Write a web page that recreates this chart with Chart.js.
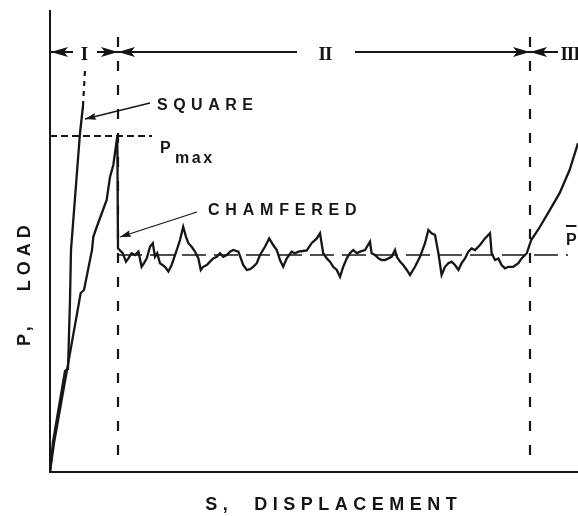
<!DOCTYPE html>
<html>
<head>
<meta charset="utf-8">
<script src="https://cdn.jsdelivr.net/npm/chart.js@4"></script>
<style>
  html, body { margin: 0; padding: 0; background: #fff; }
  canvas { display: block; }
</style>
</head>
<body>
<canvas id="chart" width="578" height="516"></canvas>
<script>
const INK = '#161616';

// Load (P) against displacement (S), arbitrary units
const squareS = [0, 0.75, 3.75, 4.5, 5, 5.25, 7.5, 8.25];
const squareP = [0, 7.5, 25.25, 25.75, 43, 55.5, 84.75, 91.5];
// dotted continuation of the square-ended curve
const squareExtS = [8.25, 8.75];
const squareExtP = [91.5, 100.5];

const pMax = 84;
const pBar = 54.25;

const chamferS = [0, 1, 7.67, 8.5, 10.5, 10.83, 11.25, 11.5, 14.17, 15, 15.83, 16.83, 17.0,
  18.17, 19, 19.6, 20.4, 21.25, 22.1, 22.9, 23.5, 24.2, 25, 25.7, 26.25, 26.8, 27.5, 28.75,
  29.6, 30.4, 31.7, 32.5, 33.3, 34, 34.6, 35.4, 36.25, 37.1, 37.7, 38.3, 39.2, 40, 40.8, 41.7,
  42.5, 43.3, 44.2, 45, 45.8, 47.1, 48.3, 49.2, 50, 50.8, 51.7, 52.5, 53.75, 54.8, 55.8, 56.7,
  57.5, 58.3, 59.2, 60.4, 61.25, 62.1, 63.2, 64.2, 65.4, 66.7, 67.5, 68.3, 69.2, 70, 70.8,
  71.7, 72.5, 73.3, 74.2, 75, 75.8, 76.7, 77.5, 78.75, 80, 80.4, 81.25, 82.1, 82.9, 83.75,
  84.6, 85.4, 86.25, 86.7, 87.5, 88.3, 89.2, 90, 91.25, 92.5, 93.75, 94.6, 95.4, 96.25, 97.1,
  97.9, 98.75, 99.6, 100.4, 101.25, 102.1, 102.9, 103.75, 104.6, 105.4, 106.25, 107.5, 108.75,
  110, 110.4, 111.25, 112.1, 112.9, 113.75, 114.6, 115.8, 117.1, 117.9, 119.2, 120.3, 122,
  124.5, 127.4, 129.9, 132, 133.5];
const chamferP = [0, 7.25, 44.75, 45.5, 55.5, 58.8, 60, 60.75, 68, 73.75, 76.75, pMax, 55.9,
  54.7, 52.6, 53.4, 54.7, 54.25, 55.1, 51.3, 52.2, 53.4, 56.3, 57.2, 53.8, 54.7, 52.2, 51.3,
  50.1, 51.75, 55.5, 58, 61.3, 58.8, 57.2, 56.3, 55.1, 53.4, 50.5, 51.3, 51.75, 52.6, 53.4, 53.8,
  54.7, 53.8, 54.25, 55.1, 55.5, 55.1, 51.75, 50.5, 50.7, 51.3, 52.2, 54.25, 56.3, 58.4, 56.75, 55.5,
  53, 51.3, 53.4, 55.1, 54.7, 55.1, 55.25, 55.4, 57.2, 58.4, 59.7, 54.7, 53.4, 52.6, 51.3,
  50.5, 48.8, 51.3, 53.4, 54.7, 55.5, 54.7, 55.1, 55.5, 57.6, 54.7, 54.25, 53.4, 53, 53,
  53.4, 53.8, 55.5, 53.8, 52.6, 51.75, 50.5, 49.25, 51.3, 53.8, 57.2, 60.5, 59.7, 59.25, 54.7,
  49.25, 51.3, 52.2, 52.6, 51.75, 50.5, 52.2, 53.4, 55.1, 55.9, 55.5, 56.75, 58.4,
  59.7, 54.7, 53, 53.4, 51.75, 50.9, 51.3, 51.3, 52.2, 53.4, 54.7, 58, 60.5,
  64.7, 69.7, 75.5, 82.2, 86];

// reference lines
const pMaxLineS = [0, 25.5];
const pBarLineS = [17, 129.5];
const boundaryS = [17, 120];          // ends of stage I and stage II
const boundaryP = [108.75, 1.75];     // top and bottom of the stage dividers

// stage markers along the top
const stageRowP = 105;
const stageLineFrom = [0.25, 11.75, 17, 76.25, 120];
const stageLineTo   = [5.75, 17, 61.75, 120, 127];
const stageTipAt    = [0.25, 17, 17, 120, 120];
const stageNames  = ['I', 'II', 'III'];
const stageLabelS = [8.5, 68.75, 127.6];
const stageAlign  = ['center', 'center', 'left'];

const axisMaxS = 132;
const axisMaxP = 115.25;

const pts = (xs, ys) => xs.map((x, i) => ({ x, y: ys[i] }));
const flat = (xs, v) => xs.map(x => ({ x, y: v }));

const LABEL_FONT = 'bold 16px "Liberation Sans", Arial, sans-serif';
const AXIS_FONT = 'bold 18px "Liberation Sans", Arial, sans-serif';
const ROMAN_FONT = 'bold 19px "Liberation Serif", "DejaVu Serif", serif';

function spacedText(ctx, text, x, y, font, spacing, align) {
  ctx.font = font;
  ctx.letterSpacing = spacing + 'px';
  ctx.textAlign = 'left';
  const w = ctx.measureText(text).width;
  let x0 = x;
  if (align === 'center') x0 = x - (w - spacing) / 2;
  ctx.fillText(text, x0, y);
  ctx.letterSpacing = '0px';
}

function arrowHead(ctx, tx, ty, ang, len, half, notch) {
  ctx.save();
  ctx.translate(tx, ty);
  ctx.rotate(ang);
  ctx.beginPath();
  ctx.moveTo(0, 0);
  ctx.lineTo(-len, -half);
  ctx.lineTo(-len + notch, 0);
  ctx.lineTo(-len, half);
  ctx.closePath();
  ctx.fill();
  ctx.restore();
}

function pointer(ctx, x0, y0, x1, y1) {
  ctx.beginPath();
  ctx.moveTo(x0, y0);
  ctx.lineTo(x1, y1);
  ctx.lineWidth = 1.3;
  ctx.stroke();
  arrowHead(ctx, x1, y1, Math.atan2(y1 - y0, x1 - x0), 11, 3.4, 1.5);
}

const annotate = {
  id: 'annotate',
  afterDatasetsDraw(chart) {
    const { ctx, scales: { x, y } } = chart;
    const px = v => x.getPixelForValue(v);
    const py = v => y.getPixelForValue(v);
    ctx.save();
    ctx.fillStyle = INK;
    ctx.strokeStyle = INK;
    ctx.setLineDash([]);
    ctx.textBaseline = 'alphabetic';

    // stage arrows
    const rowY = py(stageRowP);
    stageLineFrom.forEach((a, i) => {
      const b = stageLineTo[i];
      ctx.beginPath();
      ctx.moveTo(px(a), rowY);
      ctx.lineTo(px(b), rowY);
      ctx.lineWidth = 2;
      ctx.stroke();
      const tip = stageTipAt[i];
      const ang = tip === a ? Math.PI : 0;
      arrowHead(ctx, px(tip), rowY, ang, 17, 5, 4);
    });
    stageNames.forEach((name, i) => {
      ctx.font = ROMAN_FONT;
      ctx.letterSpacing = '-1px';
      ctx.textAlign = stageAlign[i];
      ctx.fillText(name, px(stageLabelS[i]), py(103));
      ctx.letterSpacing = '0px';
    });

    // curve labels with pointers
    spacedText(ctx, 'SQUARE', px(26.75), py(90.5), LABEL_FONT, 5.5, 'left');
    pointer(ctx, px(25), py(92.25), px(8.75), py(88.25));
    spacedText(ctx, 'CHAMFERED', px(39.5), py(64.25), LABEL_FONT, 5.8, 'left');
    pointer(ctx, px(36.75), py(65), px(17.5), py(58.75));

    // P max
    spacedText(ctx, 'P', px(27.5), py(79.75), LABEL_FONT, 0, 'left');
    spacedText(ctx, 'max', px(31.25), py(77.25), LABEL_FONT, 2.5, 'left');

    // P bar
    spacedText(ctx, 'P', px(129), py(56.75), LABEL_FONT, 0, 'left');
    ctx.beginPath();
    ctx.moveTo(px(129), py(61.5));
    ctx.lineTo(px(131.6), py(61.5));
    ctx.lineWidth = 2;
    ctx.stroke();

    // axis titles
    spacedText(ctx, 'S,  DISPLACEMENT', px(70.25), chart.chartArea.bottom + 38, AXIS_FONT, 5.5, 'center');
    ctx.save();
    ctx.translate(30, py(46.6));
    ctx.rotate(-Math.PI / 2);
    spacedText(ctx, 'P,   LOAD', 0, 0, AXIS_FONT, 5, 'center');
    ctx.restore();

    ctx.restore();
  }
};

const lineStyle = (data, width, dash) => ({
  data,
  showLine: true,
  borderColor: INK,
  borderWidth: width,
  borderDash: dash || [],
  pointRadius: 0,
  pointHoverRadius: 0,
  fill: false,
  tension: 0
});

new Chart(document.getElementById('chart'), {
  type: 'scatter',
  data: {
    datasets: [
      lineStyle(pts(squareS, squareP), 2.3),
      lineStyle(pts(squareExtS, squareExtP), 2.2, [5, 5]),
      lineStyle(pts(chamferS, chamferP), 2.3),
      lineStyle(flat(pMaxLineS, pMax), 1.8, [7, 4]),
      lineStyle(flat(pBarLineS, pBar), 1.3, [24, 8]),
      lineStyle(pts([boundaryS[0], boundaryS[0]], boundaryP), 2.2, [10, 14]),
      lineStyle(pts([boundaryS[1], boundaryS[1]], boundaryP), 2.2, [10, 14])
    ]
  },
  options: {
    responsive: false,
    animation: false,
    devicePixelRatio: 1,
    events: [],
    layout: { padding: { left: 50, top: 11, right: 0, bottom: 44 } },
    plugins: { legend: { display: false }, tooltip: { enabled: false } },
    scales: {
      x: {
        type: 'linear', min: 0, max: axisMaxS,
        grid: { display: false, drawTicks: false },
        ticks: { display: false },
        border: { display: true, color: INK, width: 2 }
      },
      y: {
        type: 'linear', min: 0, max: axisMaxP,
        grid: { display: false, drawTicks: false },
        ticks: { display: false },
        border: { display: true, color: INK, width: 2 }
      }
    }
  },
  plugins: [annotate]
});
</script>
</body>
</html>
